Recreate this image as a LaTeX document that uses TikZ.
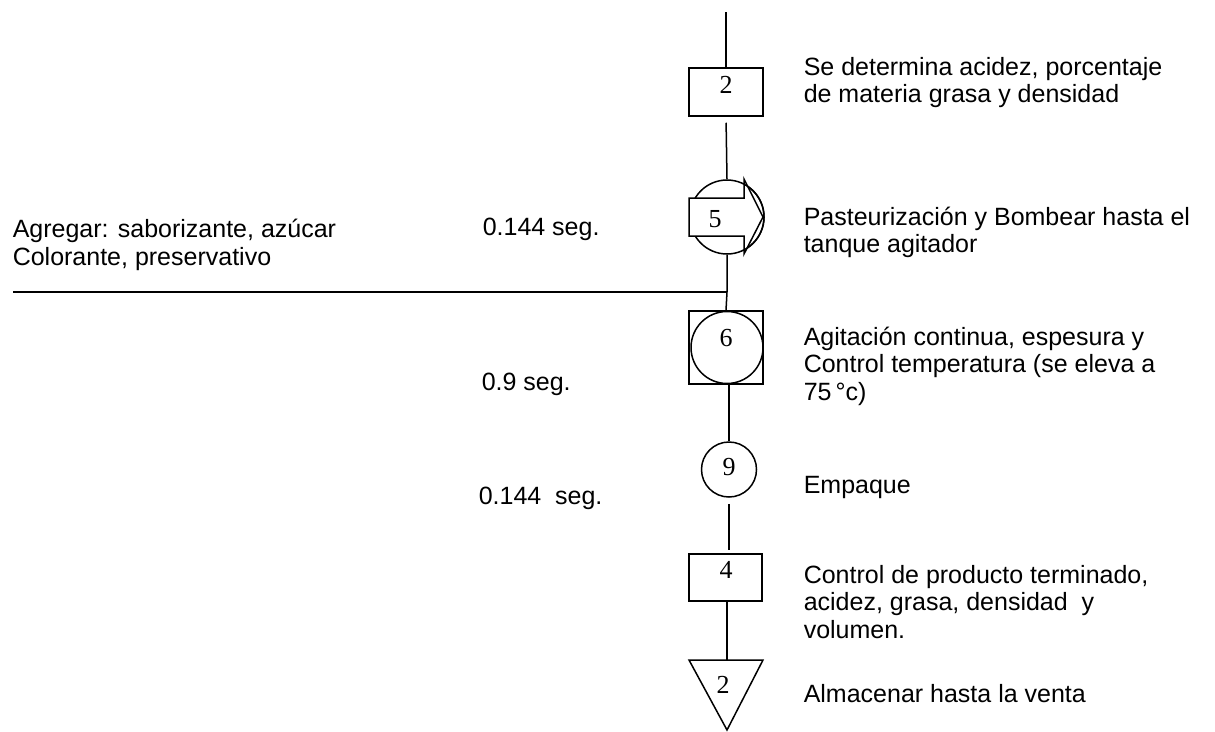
\documentclass[tikz,border=0pt]{standalone}
\usepackage{fontspec}
\setmainfont{Liberation Sans}
\newfontfamily\numfont{Liberation Serif}
\begin{document}
\begin{tikzpicture}[x=1pt,y=-1pt,
  line width=1.5pt,
  shapebox/.style={draw,rectangle,inner sep=0pt},
  shapecirc/.style={draw,circle,inner sep=0pt},
  num/.style={font=\numfont\fontsize{26}{28}\selectfont,inner sep=0pt,anchor=base},
  % multi-line blocks are anchored on the baseline of their last line
  desc/.style={font=\fontsize{25}{27.5}\selectfont,inner sep=0pt,anchor=base west,align=left},
  link/.style={draw,line width=1.5pt}]
\useasboundingbox (0,0) rectangle (1215,731);

% process symbols
\node[shapebox,minimum width=74pt,minimum height=48pt] (box2) at (726,92) {};
\node[shapecirc,minimum size=74pt] (op5) at (727,217) {};
\draw[fill=white] (689,198) -- (744,198) -- (744,179) -- (763,217)
  -- (744,254) -- (744,236) -- (689,236) -- cycle;
\draw ([shift={(-62:37pt)}]op5.center) arc[start angle=-62,end angle=62,radius=37pt];
\node[shapebox,minimum width=74pt,minimum height=73pt] (box6) at (726,347.5) {};
\node[shapecirc,minimum size=72pt] (op6) at (727,347.5) {};
\node[shapecirc,minimum size=55pt] (c9) at (729,469.5) {};
\node[shapebox,minimum width=73pt,minimum height=47pt] (box4) at (725.5,577.5) {};
\coordinate (triL) at (689,660);
\coordinate (triR) at (763,660);
\coordinate (triT) at (727,660);
\coordinate (triB) at (727,730);
\draw (triL) -- (triR) -- (triB) -- cycle;

% numbers
\node[num] (n2) at (726,93) {2};
\node[num] (n5) at (715,227) {5};
\node[num] (n6) at (726,346) {6};
\node[num] (n9) at (729,475) {9};
\node[num] (n4) at (726,578) {4};
\node[num] (n2b) at (723,693) {2};

% flow lines
\coordinate (top) at (726,12);
\coordinate (join) at (727,292);
\coordinate (left) at (13,292);
\draw[link] (top) -- (box2.north);
\draw[link,shorten <=6pt] (box2.south) -- (op5.north);
\draw[link] (op5.south) -- (join) -- (box6.north);
\draw[link] (left) -- (join);
\draw[link] (box6.south -| c9.north) -- (c9.north);
\draw[link,shorten <=6pt] (c9.south) -- ([yshift=3pt]box4.north -| c9.south);
\draw[link] (box4.south -| triT) -- (triT);

% descriptions
\node[desc] (d1) at (803,102.5) {Se determina acidez, porcentaje\\de materia grasa y densidad};
\node[desc] (d2) at (803,252.5) {Pasteurización y Bombear hasta el\\tanque agitador};
\node[desc] (d3) at (803,400) {Agitación continua, espesura y\\Control temperatura (se eleva a\\75\,°c)};
\node[desc] (d4) at (803,493) {Empaque};
\node[desc] (d5) at (803,638) {Control de producto terminado,\\acidez, grasa, densidad\ \ y\\volumen.};
\node[desc] (d6) at (803,702) {Almacenar hasta la venta};
\node[desc] (add) at (12,265) {Agregar: saborizante, azúcar\\Colorante, preservativo};
\node[desc] (t1) at (482,235) {0.144 seg.};
\node[desc] (t2) at (481,390) {0.9 seg.};
\node[desc] (t3) at (478,504) {0.144\ \ seg.};
\end{tikzpicture}
\end{document}
